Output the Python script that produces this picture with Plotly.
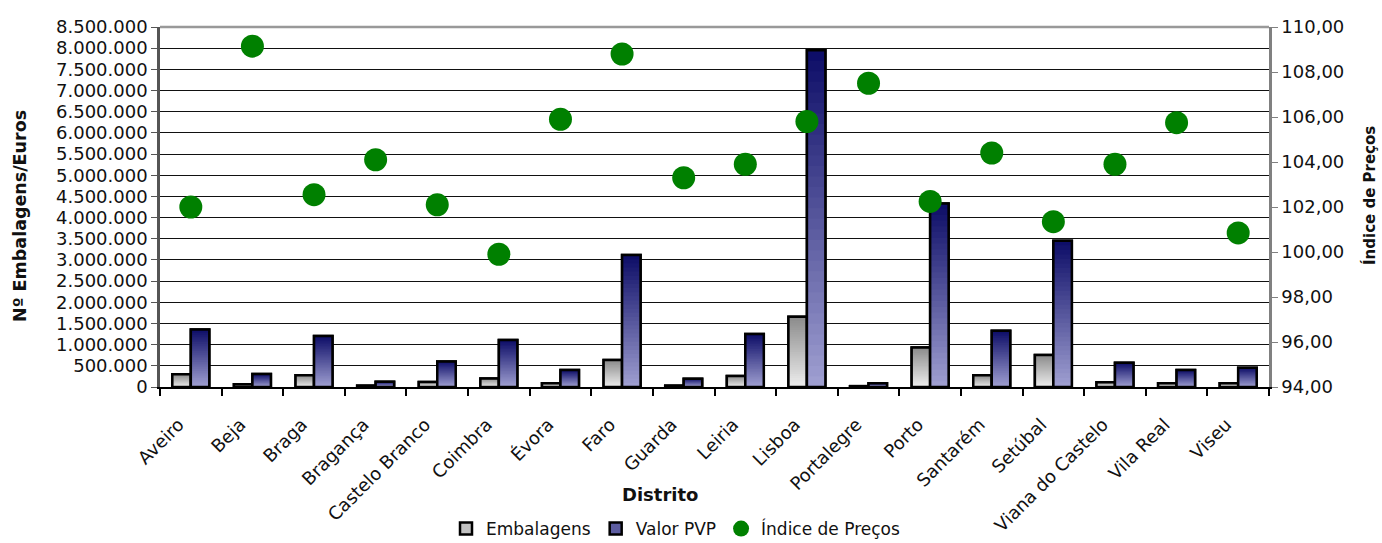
import plotly.graph_objects as go

# --- data -------------------------------------------------------------
distritos = [
    "Aveiro", "Beja", "Braga", "Bragança", "Castelo Branco", "Coimbra",
    "Évora", "Faro", "Guarda", "Leiria", "Lisboa", "Portalegre", "Porto",
    "Santarém", "Setúbal", "Viana do Castelo", "Vila Real", "Viseu",
]
embalagens = [
    300000, 62000, 278000, 32000, 120000, 200000,
    88000, 640000, 32000, 262000, 1660000, 20000, 935000,
    276000, 755000, 112000, 88000, 88000,
]
valor_pvp = [
    1360000, 305000, 1205000, 125000, 605000, 1108000,
    400000, 3115000, 196000, 1250000, 7950000, 86000, 4335000,
    1330000, 3455000, 575000, 400000, 455000,
]
indice_precos = [
    102.00, 109.15, 102.55, 104.10, 102.10, 99.90,
    105.90, 108.80, 103.30, 103.90, 105.80, 107.50, 102.25,
    104.40, 101.35, 103.90, 105.75, 100.85,
]

FONT = "DejaVu Sans"
TXT = "#111111"
N_STEPS = 32  # layers used to shade each bar from top to bottom


def blend(c1, c2, t):
    r = round(c1[0] + (c2[0] - c1[0]) * t)
    g = round(c1[1] + (c2[1] - c1[1]) * t)
    b = round(c1[2] + (c2[2] - c1[2]) * t)
    return f"rgb({r},{g},{b})"


def add_shaded_bars(fig, values, name, group, top, bottom):
    """Bar series with a vertical colour ramp: dark at the top, light at the base."""
    # legend swatch / base layer
    fig.add_trace(go.Bar(
        x=distritos, y=values, name=name, offsetgroup=group,
        marker=dict(color=blend(top, bottom, 0.55), line=dict(color="black", width=2.5)),
        hoverinfo="skip",
    ))
    # overlapping layers, each shorter and lighter than the previous one
    for k in range(N_STEPS):
        frac = (N_STEPS - k) / N_STEPS
        fig.add_trace(go.Bar(
            x=distritos, y=[v * frac for v in values], offsetgroup=group,
            marker=dict(color=blend(top, bottom, k / (N_STEPS - 1)), line=dict(width=0)),
            showlegend=False, hoverinfo="skip",
        ))
    # outline on top
    fig.add_trace(go.Bar(
        x=distritos, y=values, name=name, offsetgroup=group,
        marker=dict(color="rgba(0,0,0,0)", line=dict(color="black", width=2.5)),
        showlegend=False,
    ))


fig = go.Figure()
add_shaded_bars(fig, embalagens, "Embalagens", "emb", (140, 140, 140), (236, 236, 236))
add_shaded_bars(fig, valor_pvp, "Valor PVP", "pvp", (14, 14, 104), (158, 158, 208))

fig.add_trace(go.Scatter(
    x=distritos, y=indice_precos, name="Índice de Preços", yaxis="y2",
    mode="markers", marker=dict(color="#008000", size=23, line=dict(width=0)),
))

fig.update_layout(
    width=1382, height=543,
    margin=dict(l=160, r=113, t=27, b=156, autoexpand=False),
    paper_bgcolor="white", plot_bgcolor="white",
    font=dict(family=FONT, color=TXT),
    separators=",.",
    barmode="group", bargap=0.4, bargroupgap=0.0,
    showlegend=True,
    legend=dict(
        orientation="h",
        xref="container", x=446 / 1382, xanchor="left",
        yref="paper", y=-0.3444, yanchor="top",
        font=dict(family=FONT, size=17, color=TXT),
        bgcolor="rgba(0,0,0,0)", traceorder="normal",
        itemwidth=30, tracegroupgap=0,
    ),
    xaxis=dict(
        type="category", range=[-0.5, len(distritos) - 0.5],
        tickson="boundaries", ticks="outside", ticklen=7, tickwidth=1.5, tickcolor="black",
        showline=True, linecolor="black", linewidth=2,
        tickangle=-45, tickfont=dict(family=FONT, size=18, color=TXT),
        ticklabelstandoff=18, ticklabelshift=-12,
        showgrid=False, automargin=False,
    ),
    yaxis=dict(
        range=[0, 8500000], dtick=500000, tick0=0, tickformat=",d",
        showgrid=True, gridcolor="#111111", gridwidth=1,
        zeroline=False,
        showline=True, linecolor="#555555", linewidth=2.5,
        ticks="outside", ticklen=6, tickcolor="#555555",
        tickfont=dict(family=FONT, size=18, color=TXT),
        automargin=False,
    ),
    yaxis2=dict(
        overlaying="y", side="right",
        range=[94, 110], dtick=2, tick0=94, tickformat=".2f",
        showgrid=False, zeroline=False,
        showline=True, linecolor="#808080", linewidth=2.5,
        ticks="outside", ticklen=6, tickcolor="#808080",
        tickfont=dict(family=FONT, size=18, color=TXT),
        automargin=False,
    ),
    shapes=[
        # grey frame edge along the top of the plot area
        dict(type="line", xref="paper", yref="paper", x0=0, x1=1, y0=1, y1=1,
             line=dict(color="#999999", width=2.5), layer="above"),
    ],
    annotations=[
        dict(text="<b>Distrito</b>", xref="paper", yref="paper",
             x=0.4509, y=-0.2976, xanchor="center", yanchor="middle",
             showarrow=False, font=dict(family=FONT, size=18, color=TXT)),
        dict(text="<b>Nº Embalagens/Euros</b>", xref="paper", yref="paper",
             x=(20 - 160) / 1109, y=(387 - 216) / 360, textangle=-90,
             xanchor="center", yanchor="middle",
             showarrow=False, font=dict(family=FONT, size=17.5, color=TXT)),
        dict(text="<b>Índice de Preços</b>", xref="paper", yref="paper",
             x=(1369 - 160) / 1109, y=(387 - 196) / 360, textangle=-90,
             xanchor="center", yanchor="middle",
             showarrow=False, font=dict(family=FONT, size=15, color=TXT)),
    ],
)

fig.write_html("out.html")
